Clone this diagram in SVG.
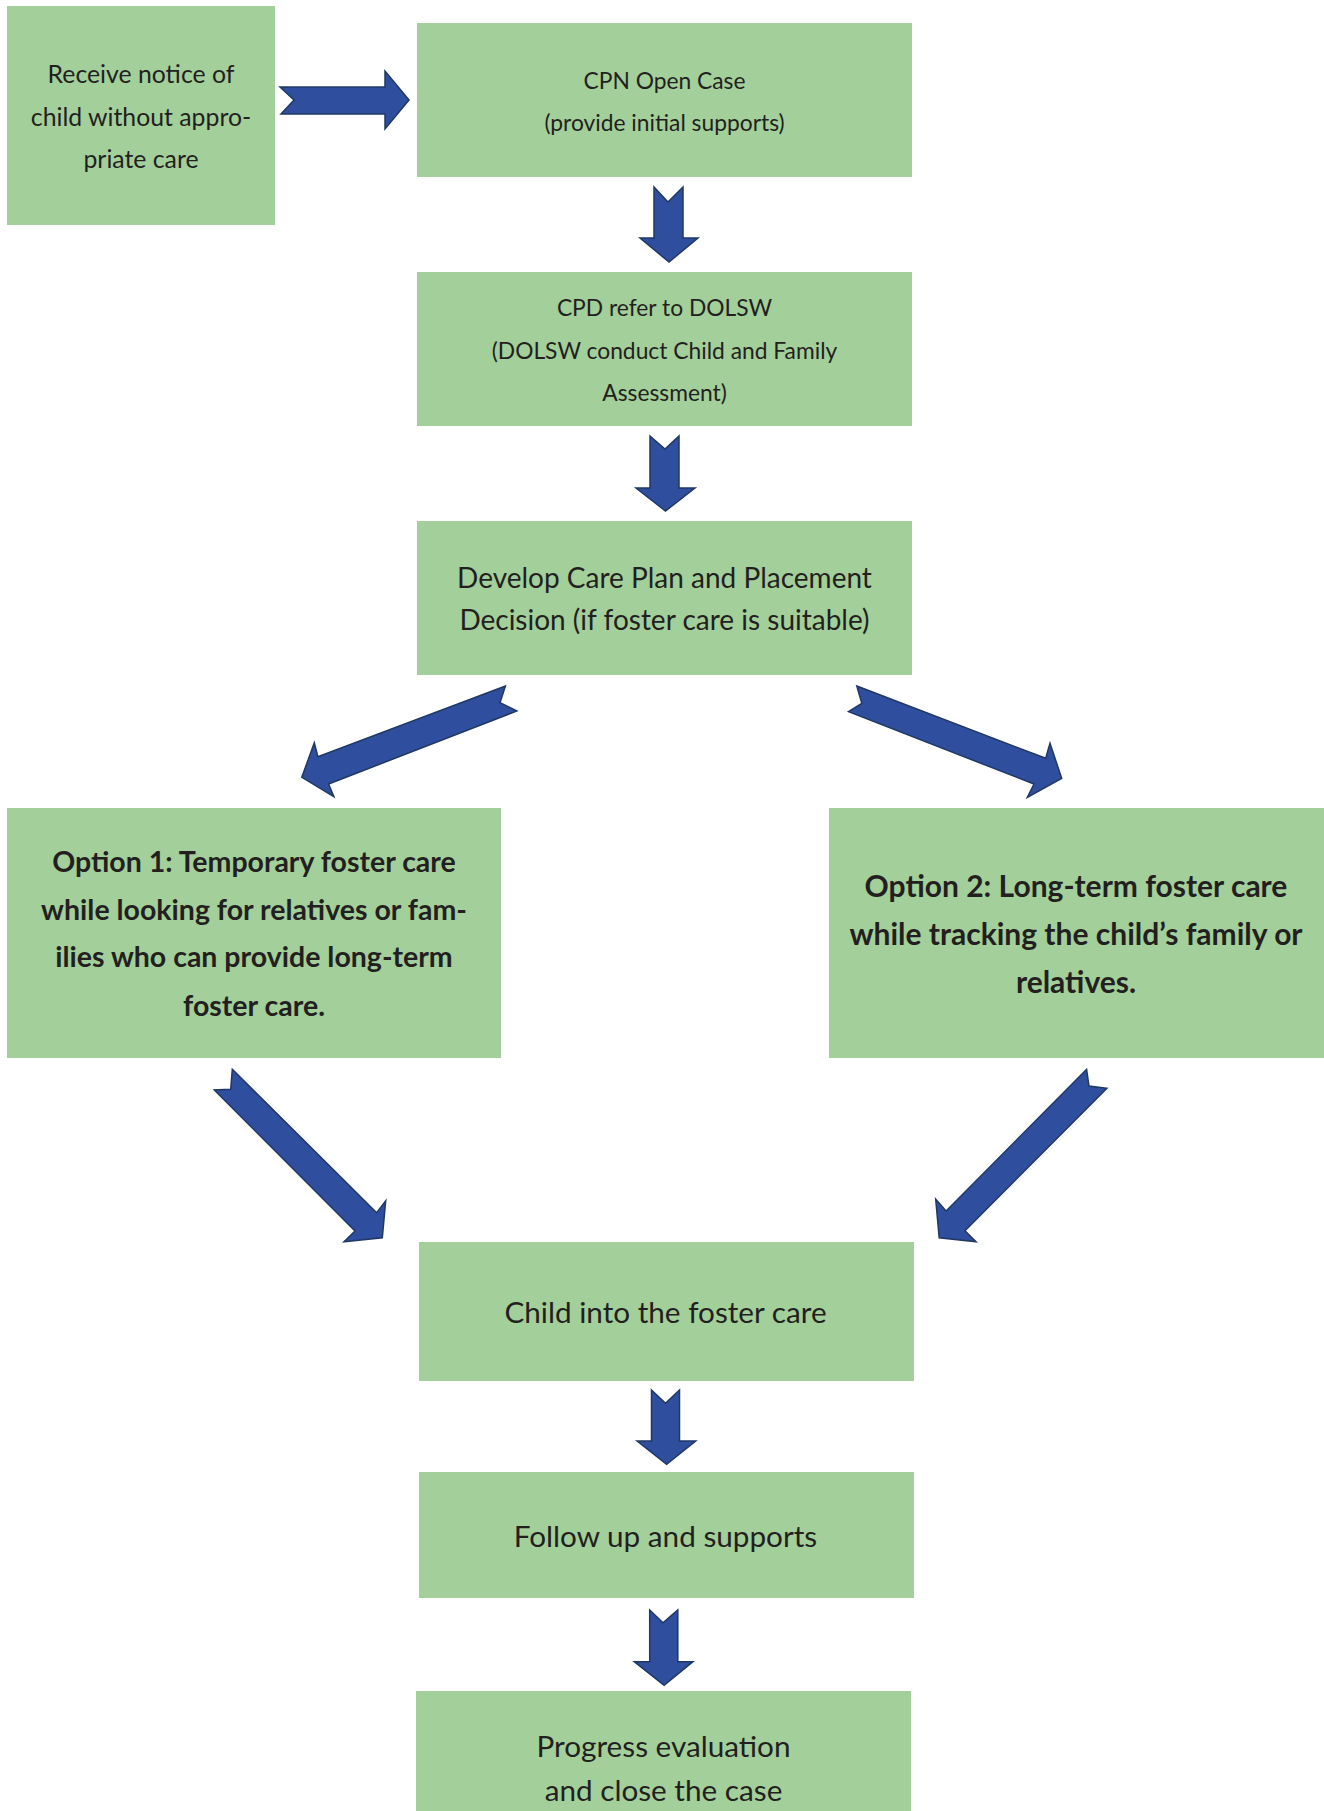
<svg xmlns="http://www.w3.org/2000/svg" width="1324" height="1811" viewBox="0 0 1324 1811">
<style>
.box{fill:#A3CF9B}
.t{font-family:Lato,"Open Sans","Liberation Sans",sans-serif;fill:#231F20;text-anchor:middle}
.s1{font-size:24.8px}
.s{font-size:22.8px}
.m{font-size:28px}
.l{font-size:29.7px}
.b1{font-size:28.5px;font-weight:bold}
.b2{font-size:30px;font-weight:bold}
.arr{fill:#2F4E9E;stroke:#1F3864;stroke-width:1.5;stroke-linejoin:miter}
</style>
<rect width="1324" height="1811" fill="#FFFFFF"/>
<g id="n1"><rect class="box" x="7" y="6" width="268" height="219"/>
<text class="t s1" x="141" y="83">Receive notice of</text>
<text class="t s1" x="141" y="126">child without appro-</text>
<text class="t s1" x="141" y="168">priate care</text></g>
<g id="n2"><rect class="box" x="417" y="23" width="495" height="154"/>
<text class="t s" x="664.5" y="89">CPN Open Case</text>
<text class="t s" x="664.5" y="131">(provide initial supports)</text></g>
<g id="n3"><rect class="box" x="417" y="272" width="495" height="154"/>
<text class="t s" x="664.5" y="316">CPD refer to DOLSW</text>
<text class="t s" x="664.5" y="359">(DOLSW conduct Child and Family</text>
<text class="t s" x="664.5" y="401">Assessment)</text></g>
<g id="n4"><rect class="box" x="417" y="521" width="495" height="154"/>
<text class="t m" x="664.5" y="588">Develop Care Plan and Placement</text>
<text class="t m" x="664.5" y="630">Decision (if foster care is suitable)</text></g>
<g id="n5"><rect class="box" x="7" y="808" width="494" height="250"/>
<text class="t b1" x="254" y="872">Option 1: Temporary foster care</text>
<text class="t b1" x="254" y="920">while looking for relatives or fam-</text>
<text class="t b1" x="254" y="967">ilies who can provide long-term</text>
<text class="t b1" x="254" y="1016">foster care.</text></g>
<g id="n6"><rect class="box" x="829" y="808" width="495" height="250"/>
<text class="t b2" x="1076" y="897">Option 2: Long-term foster care</text>
<text class="t b2" x="1076" y="945">while tracking the child’s family or</text>
<text class="t b2" x="1076" y="993">relatives.</text></g>
<g id="n7"><rect class="box" x="419" y="1242" width="495" height="139"/>
<text class="t l" x="665.5" y="1323">Child into the foster care</text></g>
<g id="n8"><rect class="box" x="419" y="1472" width="495" height="126"/>
<text class="t l" x="665.5" y="1547">Follow up and supports</text></g>
<g id="n9"><rect class="box" x="416" y="1691" width="495" height="125"/>
<text class="t l" x="663.5" y="1757">Progress evaluation</text>
<text class="t l" x="663.5" y="1801">and close the case</text></g>
<g id="connectors">
<polygon class="arr" points="280,87 385,87 385,71 409,100 385,129 385,114 281,114 294,100"/>
<polygon class="arr" points="654,187 668,202 683,187 683,238 698,238 669,262 640,238 654,238"/>
<polygon class="arr" points="650,436 665,449 679,436 679,488 695,488 665.5,511 636,488 650,488"/>
<polygon class="arr" points="505.4,686 500,702.7 516.8,711 328.6,784 333.9,796.7 301.8,777.3 314.3,742.7 317.9,756.7"/>
<polygon class="arr" points="856.8,686 1045.7,758.3 1050,743.3 1061.7,778.3 1027.3,797.3 1034,784 848.5,711.7 861.8,703.3"/>
<polygon class="arr" points="232.3,1069.3 376.7,1212.7 385.7,1200.7 382.3,1237.7 344,1241.7 355,1231 214.3,1090 230.7,1089.3"/>
<polygon class="arr" points="1086.6,1069.3 1089,1086 1106.9,1088.3 965,1230.7 976,1241.7 939.2,1237.7 935.7,1199.3 946.1,1211"/>
<polygon class="arr" points="651.5,1390 665.5,1403.3 679.5,1390 679.5,1441 695.7,1441 666.6,1464.3 637.1,1441 651.5,1441"/>
<polygon class="arr" points="649.7,1610 663,1622.7 677.8,1610 677.8,1661.7 692.9,1661.7 664.1,1685.3 634.3,1661.7 649.7,1661.7"/>
</g>
</svg>
